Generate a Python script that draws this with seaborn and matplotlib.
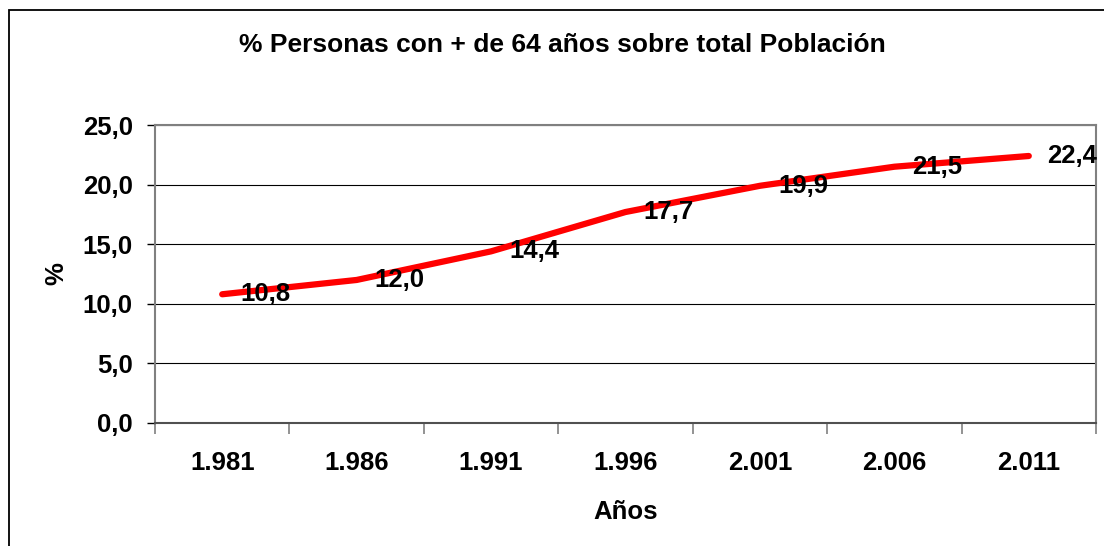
import numpy as np
import pandas as pd
import matplotlib
matplotlib.use("Agg")
import matplotlib.pyplot as plt
import seaborn as sns
from matplotlib.patches import Rectangle
from matplotlib.ticker import FuncFormatter, FixedLocator

# data
years = ["1.981", "1.986", "1.991", "1.996", "2.001", "2.006", "2.011"]
pct = [10.8, 12.0, 14.4, 17.7, 19.9, 21.5, 22.4]
pct_labels = ["10,8", "12,0", "14,4", "17,7", "19,9", "21,5", "22,4"]

df = pd.DataFrame({"year": years, "pct": pct})

sns.set_style("white")
plt.rcParams["font.family"] = ["Liberation Sans", "DejaVu Sans"]
plt.rcParams["font.weight"] = "bold"
plt.rcParams["text.color"] = "black"
plt.rcParams["axes.labelcolor"] = "black"
plt.rcParams["xtick.color"] = "black"
plt.rcParams["ytick.color"] = "black"

fig = plt.figure(figsize=(11.04, 5.46), dpi=100)
ax = fig.add_axes([155 / 1104, 1 - 423 / 546, (1096 - 155) / 1104, (423 - 125) / 546])

# outer chart frame (cut off at right and bottom like the original)
fig.patches.append(Rectangle((9 / 1104, -0.1), 1.2, 1 - 10 / 546 + 0.1,
                             transform=fig.transFigure, fill=False,
                             edgecolor="black", linewidth=1.3, zorder=0))

sns.lineplot(data=df, x="year", y="pct", color="#ff0000", linewidth=4.5,
             sort=False, ax=ax)

ax.set_xlim(-0.5, len(years) - 0.5)
ax.set_ylim(0, 25)
ax.set_yticks(np.arange(0, 26, 5))
ax.yaxis.set_major_formatter(FuncFormatter(lambda v, p: f"{v:.1f}".replace(".", ",")))
ax.grid(axis="y", color="black", linewidth=0.8)
ax.set_axisbelow(True)

# ticks between categories
ax.set_xticks(range(len(years)))
ax.set_xticklabels(years)
ax.xaxis.set_minor_locator(FixedLocator(np.arange(-0.5, len(years), 1)))
ax.tick_params(axis="x", which="major", length=0, pad=20, labelsize=18.5)
ax.tick_params(axis="x", which="minor", length=8, width=1.2, color="#808080",
               bottom=True)
ax.tick_params(axis="y", which="major", length=6, width=1, color="black",
               left=True, pad=10, labelsize=18.5)

for s in ax.spines.values():
    s.set_color("#808080")
    s.set_linewidth(1.5)
ax.spines["bottom"].set_color("#505050")

for i, (v, lab) in enumerate(zip(pct, pct_labels)):
    ax.annotate(lab, (i, v), xytext=(13, 0), textcoords="offset points",
                ha="left", va="center", fontsize=18.5, fontweight="bold")

ax.set_xlabel("Años", fontsize=18.5, fontweight="bold", labelpad=18)
ax.set_ylabel("%", fontsize=18.5, fontweight="bold", labelpad=10)
fig.text(562 / 1104, 1 - 45 / 546, "% Personas con + de 64 años sobre total Población",
         ha="center", va="center", fontsize=19, fontweight="bold")

fig.savefig("out.png", dpi=100)
